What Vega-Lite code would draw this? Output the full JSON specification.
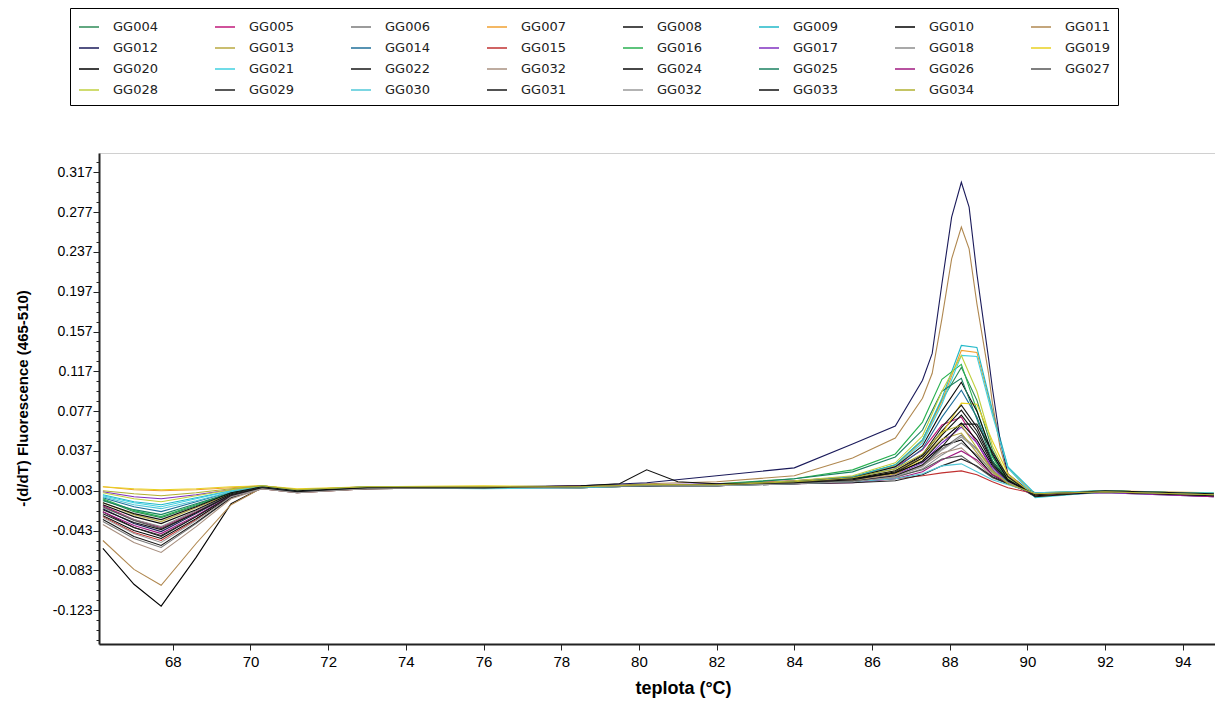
{
"$schema":"https://vega.github.io/schema/vega-lite/v6.json",
"width":1116,"height":491,
"autosize":{"type":"none"},
"padding":{"left":99,"top":153,"right":0,"bottom":57},
"background":"white",
"config":{"view":{"stroke":"#d0d0d0","strokeWidth":1},"axis":{"labelColor":"black","titleColor":"black","domainColor":"#222","tickColor":"#222","grid":false}},
"data":{"values":[
{"s":"GG004","t":66.2,"v":-0.012},{"s":"GG004","t":67.0,"v":-0.024},{"s":"GG004","t":67.7,"v":-0.030},{"s":"GG004","t":68.6,"v":-0.018},{"s":"GG004","t":69.5,"v":-0.005},{"s":"GG004","t":70.3,"v":0.001},{"s":"GG004","t":71.2,"v":-0.003},{"s":"GG004","t":73,"v":0.000},{"s":"GG004","t":76,"v":0.001},{"s":"GG004","t":78.5,"v":0.000},{"s":"GG004","t":80.2,"v":0.003},{"s":"GG004","t":82,"v":0.003},{"s":"GG004","t":84,"v":0.007},{"s":"GG004","t":85.5,"v":0.011},{"s":"GG004","t":86.6,"v":0.023},{"s":"GG004","t":87.3,"v":0.048},{"s":"GG004","t":87.8,"v":0.088},{"s":"GG004","t":88.3,"v":0.121},{"s":"GG004","t":88.7,"v":0.088},{"s":"GG004","t":89.1,"v":0.038},{"s":"GG004","t":89.5,"v":0.009},{"s":"GG004","t":90.2,"v":-0.006},{"s":"GG004","t":92,"v":-0.003},{"s":"GG004","t":94.8,"v":-0.007},
{"s":"GG005","t":66.2,"v":-0.018},{"s":"GG005","t":67.0,"v":-0.032},{"s":"GG005","t":67.7,"v":-0.040},{"s":"GG005","t":68.6,"v":-0.024},{"s":"GG005","t":69.5,"v":-0.007},{"s":"GG005","t":70.3,"v":0.000},{"s":"GG005","t":71.2,"v":-0.004},{"s":"GG005","t":73,"v":0.001},{"s":"GG005","t":76,"v":0.000},{"s":"GG005","t":78.5,"v":0.002},{"s":"GG005","t":80.2,"v":0.002},{"s":"GG005","t":82,"v":0.004},{"s":"GG005","t":84,"v":0.007},{"s":"GG005","t":85.5,"v":0.011},{"s":"GG005","t":86.6,"v":0.021},{"s":"GG005","t":87.3,"v":0.038},{"s":"GG005","t":87.8,"v":0.063},{"s":"GG005","t":88.3,"v":0.071},{"s":"GG005","t":88.7,"v":0.045},{"s":"GG005","t":89.1,"v":0.018},{"s":"GG005","t":89.5,"v":0.004},{"s":"GG005","t":90.2,"v":-0.007},{"s":"GG005","t":92,"v":-0.004},{"s":"GG005","t":94.8,"v":-0.008},
{"s":"GG006","t":66.2,"v":-0.034},{"s":"GG006","t":67.0,"v":-0.051},{"s":"GG006","t":67.7,"v":-0.060},{"s":"GG006","t":68.6,"v":-0.036},{"s":"GG006","t":69.5,"v":-0.010},{"s":"GG006","t":70.3,"v":-0.001},{"s":"GG006","t":71.2,"v":-0.005},{"s":"GG006","t":73,"v":-0.001},{"s":"GG006","t":76,"v":0.001},{"s":"GG006","t":78.5,"v":0.000},{"s":"GG006","t":80.2,"v":0.002},{"s":"GG006","t":82,"v":0.002},{"s":"GG006","t":84,"v":0.005},{"s":"GG006","t":85.5,"v":0.007},{"s":"GG006","t":86.6,"v":0.012},{"s":"GG006","t":87.3,"v":0.022},{"s":"GG006","t":87.8,"v":0.039},{"s":"GG006","t":88.3,"v":0.053},{"s":"GG006","t":88.7,"v":0.039},{"s":"GG006","t":89.1,"v":0.018},{"s":"GG006","t":89.5,"v":0.005},{"s":"GG006","t":90.2,"v":-0.006},{"s":"GG006","t":92,"v":-0.005},{"s":"GG006","t":94.8,"v":-0.009},
{"s":"GG007","t":66.2,"v":0.001},{"s":"GG007","t":67.0,"v":-0.002},{"s":"GG007","t":67.7,"v":-0.003},{"s":"GG007","t":68.6,"v":-0.002},{"s":"GG007","t":69.5,"v":0.000},{"s":"GG007","t":70.3,"v":0.002},{"s":"GG007","t":71.2,"v":-0.002},{"s":"GG007","t":73,"v":0.000},{"s":"GG007","t":76,"v":0.001},{"s":"GG007","t":78.5,"v":0.001},{"s":"GG007","t":80.2,"v":0.003},{"s":"GG007","t":82,"v":0.002},{"s":"GG007","t":84,"v":0.006},{"s":"GG007","t":85.5,"v":0.010},{"s":"GG007","t":86.6,"v":0.022},{"s":"GG007","t":87.3,"v":0.047},{"s":"GG007","t":87.8,"v":0.087},{"s":"GG007","t":88.3,"v":0.138},{"s":"GG007","t":88.7,"v":0.136},{"s":"GG007","t":89.1,"v":0.076},{"s":"GG007","t":89.5,"v":0.020},{"s":"GG007","t":90.2,"v":-0.008},{"s":"GG007","t":92,"v":-0.003},{"s":"GG007","t":94.8,"v":-0.005},
{"s":"GG008","t":66.2,"v":-0.024},{"s":"GG008","t":67.0,"v":-0.040},{"s":"GG008","t":67.7,"v":-0.049},{"s":"GG008","t":68.6,"v":-0.029},{"s":"GG008","t":69.5,"v":-0.008},{"s":"GG008","t":70.3,"v":0.000},{"s":"GG008","t":71.2,"v":-0.004},{"s":"GG008","t":73,"v":0.000},{"s":"GG008","t":76,"v":0.000},{"s":"GG008","t":78.5,"v":0.001},{"s":"GG008","t":80.2,"v":0.003},{"s":"GG008","t":82,"v":0.003},{"s":"GG008","t":84,"v":0.005},{"s":"GG008","t":85.5,"v":0.008},{"s":"GG008","t":86.6,"v":0.016},{"s":"GG008","t":87.3,"v":0.032},{"s":"GG008","t":87.8,"v":0.057},{"s":"GG008","t":88.3,"v":0.078},{"s":"GG008","t":88.7,"v":0.057},{"s":"GG008","t":89.1,"v":0.026},{"s":"GG008","t":89.5,"v":0.007},{"s":"GG008","t":90.2,"v":-0.009},{"s":"GG008","t":92,"v":-0.004},{"s":"GG008","t":94.8,"v":-0.007},
{"s":"GG009","t":66.2,"v":-0.007},{"s":"GG009","t":67.0,"v":-0.014},{"s":"GG009","t":67.7,"v":-0.017},{"s":"GG009","t":68.6,"v":-0.010},{"s":"GG009","t":69.5,"v":-0.003},{"s":"GG009","t":70.3,"v":0.002},{"s":"GG009","t":71.2,"v":-0.003},{"s":"GG009","t":73,"v":0.001},{"s":"GG009","t":76,"v":0.000},{"s":"GG009","t":78.5,"v":0.000},{"s":"GG009","t":80.2,"v":0.002},{"s":"GG009","t":82,"v":0.003},{"s":"GG009","t":84,"v":0.006},{"s":"GG009","t":85.5,"v":0.011},{"s":"GG009","t":86.6,"v":0.023},{"s":"GG009","t":87.3,"v":0.048},{"s":"GG009","t":87.8,"v":0.090},{"s":"GG009","t":88.3,"v":0.143},{"s":"GG009","t":88.7,"v":0.141},{"s":"GG009","t":89.1,"v":0.078},{"s":"GG009","t":89.5,"v":0.021},{"s":"GG009","t":90.2,"v":-0.006},{"s":"GG009","t":92,"v":-0.004},{"s":"GG009","t":94.8,"v":-0.006},
{"s":"GG010","t":66.2,"v":-0.061},{"s":"GG010","t":67.0,"v":-0.097},{"s":"GG010","t":67.7,"v":-0.119},{"s":"GG010","t":68.6,"v":-0.070},{"s":"GG010","t":69.5,"v":-0.016},{"s":"GG010","t":70.3,"v":0.000},{"s":"GG010","t":71.2,"v":-0.004},{"s":"GG010","t":73,"v":-0.001},{"s":"GG010","t":76,"v":0.000},{"s":"GG010","t":78.5,"v":0.001},{"s":"GG010","t":80.2,"v":0.002},{"s":"GG010","t":82,"v":0.002},{"s":"GG010","t":84,"v":0.005},{"s":"GG010","t":85.5,"v":0.007},{"s":"GG010","t":86.6,"v":0.014},{"s":"GG010","t":87.3,"v":0.027},{"s":"GG010","t":87.8,"v":0.048},{"s":"GG010","t":88.3,"v":0.065},{"s":"GG010","t":88.7,"v":0.048},{"s":"GG010","t":89.1,"v":0.022},{"s":"GG010","t":89.5,"v":0.006},{"s":"GG010","t":90.2,"v":-0.007},{"s":"GG010","t":92,"v":-0.003},{"s":"GG010","t":94.8,"v":-0.006},
{"s":"GG011","t":66.2,"v":-0.053},{"s":"GG011","t":67.0,"v":-0.082},{"s":"GG011","t":67.7,"v":-0.098},{"s":"GG011","t":68.6,"v":-0.056},{"s":"GG011","t":69.5,"v":-0.017},{"s":"GG011","t":70.3,"v":0.000},{"s":"GG011","t":71.2,"v":-0.004},{"s":"GG011","t":73,"v":0.000},{"s":"GG011","t":76,"v":0.001},{"s":"GG011","t":78.5,"v":0.001},{"s":"GG011","t":80.2,"v":0.004},{"s":"GG011","t":82,"v":0.006},{"s":"GG011","t":84,"v":0.012},{"s":"GG011","t":85.5,"v":0.030},{"s":"GG011","t":86.6,"v":0.050},{"s":"GG011","t":87.3,"v":0.090},{"s":"GG011","t":87.55,"v":0.115},{"s":"GG011","t":87.8,"v":0.170},{"s":"GG011","t":88.05,"v":0.230},{"s":"GG011","t":88.3,"v":0.262},{"s":"GG011","t":88.5,"v":0.240},{"s":"GG011","t":88.7,"v":0.185},{"s":"GG011","t":89.0,"v":0.115},{"s":"GG011","t":89.1,"v":0.085},{"s":"GG011","t":89.3,"v":0.040},{"s":"GG011","t":89.5,"v":0.012},{"s":"GG011","t":90.2,"v":-0.008},{"s":"GG011","t":92,"v":-0.004},{"s":"GG011","t":94.8,"v":-0.007},
{"s":"GG012","t":66.2,"v":-0.021},{"s":"GG012","t":67.0,"v":-0.036},{"s":"GG012","t":67.7,"v":-0.044},{"s":"GG012","t":68.6,"v":-0.026},{"s":"GG012","t":69.5,"v":-0.007},{"s":"GG012","t":70.3,"v":0.001},{"s":"GG012","t":71.2,"v":-0.003},{"s":"GG012","t":73,"v":0.001},{"s":"GG012","t":76,"v":0.001},{"s":"GG012","t":78.5,"v":0.002},{"s":"GG012","t":80.2,"v":0.005},{"s":"GG012","t":82,"v":0.012},{"s":"GG012","t":84,"v":0.020},{"s":"GG012","t":85.5,"v":0.044},{"s":"GG012","t":86.6,"v":0.062},{"s":"GG012","t":87.3,"v":0.108},{"s":"GG012","t":87.55,"v":0.135},{"s":"GG012","t":87.8,"v":0.205},{"s":"GG012","t":88.05,"v":0.272},{"s":"GG012","t":88.3,"v":0.307},{"s":"GG012","t":88.5,"v":0.282},{"s":"GG012","t":88.7,"v":0.215},{"s":"GG012","t":89.0,"v":0.130},{"s":"GG012","t":89.1,"v":0.100},{"s":"GG012","t":89.3,"v":0.047},{"s":"GG012","t":89.5,"v":0.014},{"s":"GG012","t":90.2,"v":-0.008},{"s":"GG012","t":92,"v":-0.004},{"s":"GG012","t":94.8,"v":-0.006},
{"s":"GG013","t":66.2,"v":-0.015},{"s":"GG013","t":67.0,"v":-0.027},{"s":"GG013","t":67.7,"v":-0.034},{"s":"GG013","t":68.6,"v":-0.020},{"s":"GG013","t":69.5,"v":-0.006},{"s":"GG013","t":70.3,"v":0.001},{"s":"GG013","t":71.2,"v":-0.003},{"s":"GG013","t":73,"v":0.000},{"s":"GG013","t":76,"v":0.001},{"s":"GG013","t":78.5,"v":0.000},{"s":"GG013","t":80.2,"v":0.002},{"s":"GG013","t":82,"v":0.003},{"s":"GG013","t":84,"v":0.006},{"s":"GG013","t":85.5,"v":0.009},{"s":"GG013","t":86.6,"v":0.017},{"s":"GG013","t":87.3,"v":0.030},{"s":"GG013","t":87.8,"v":0.049},{"s":"GG013","t":88.3,"v":0.055},{"s":"GG013","t":88.7,"v":0.035},{"s":"GG013","t":89.1,"v":0.015},{"s":"GG013","t":89.5,"v":0.004},{"s":"GG013","t":90.2,"v":-0.005},{"s":"GG013","t":92,"v":-0.004},{"s":"GG013","t":94.8,"v":-0.008},
{"s":"GG014","t":66.2,"v":-0.010},{"s":"GG014","t":67.0,"v":-0.019},{"s":"GG014","t":67.7,"v":-0.024},{"s":"GG014","t":68.6,"v":-0.014},{"s":"GG014","t":69.5,"v":-0.004},{"s":"GG014","t":70.3,"v":0.001},{"s":"GG014","t":71.2,"v":-0.004},{"s":"GG014","t":73,"v":0.000},{"s":"GG014","t":76,"v":0.000},{"s":"GG014","t":78.5,"v":0.001},{"s":"GG014","t":80.2,"v":0.002},{"s":"GG014","t":82,"v":0.003},{"s":"GG014","t":84,"v":0.006},{"s":"GG014","t":85.5,"v":0.010},{"s":"GG014","t":86.6,"v":0.019},{"s":"GG014","t":87.3,"v":0.039},{"s":"GG014","t":87.8,"v":0.071},{"s":"GG014","t":88.3,"v":0.098},{"s":"GG014","t":88.7,"v":0.071},{"s":"GG014","t":89.1,"v":0.032},{"s":"GG014","t":89.5,"v":0.008},{"s":"GG014","t":90.2,"v":-0.007},{"s":"GG014","t":92,"v":-0.004},{"s":"GG014","t":94.8,"v":-0.006},
{"s":"GG015","t":66.2,"v":-0.029},{"s":"GG015","t":67.0,"v":-0.045},{"s":"GG015","t":67.7,"v":-0.053},{"s":"GG015","t":68.6,"v":-0.032},{"s":"GG015","t":69.5,"v":-0.009},{"s":"GG015","t":70.3,"v":-0.001},{"s":"GG015","t":71.2,"v":-0.005},{"s":"GG015","t":73,"v":-0.001},{"s":"GG015","t":76,"v":0.000},{"s":"GG015","t":78.5,"v":0.000},{"s":"GG015","t":80.2,"v":0.002},{"s":"GG015","t":82,"v":0.002},{"s":"GG015","t":84,"v":0.004},{"s":"GG015","t":85.5,"v":0.006},{"s":"GG015","t":86.6,"v":0.009},{"s":"GG015","t":87.3,"v":0.012},{"s":"GG015","t":87.8,"v":0.015},{"s":"GG015","t":88.3,"v":0.017},{"s":"GG015","t":88.7,"v":0.013},{"s":"GG015","t":89.1,"v":0.006},{"s":"GG015","t":89.5,"v":0.000},{"s":"GG015","t":90.2,"v":-0.006},{"s":"GG015","t":92,"v":-0.004},{"s":"GG015","t":94.8,"v":-0.007},
{"s":"GG016","t":66.2,"v":-0.011},{"s":"GG016","t":67.0,"v":-0.023},{"s":"GG016","t":67.7,"v":-0.029},{"s":"GG016","t":68.6,"v":-0.017},{"s":"GG016","t":69.5,"v":-0.005},{"s":"GG016","t":70.3,"v":0.001},{"s":"GG016","t":71.2,"v":-0.003},{"s":"GG016","t":73,"v":0.000},{"s":"GG016","t":76,"v":0.001},{"s":"GG016","t":78.5,"v":0.001},{"s":"GG016","t":80.2,"v":0.002},{"s":"GG016","t":82,"v":0.004},{"s":"GG016","t":84,"v":0.009},{"s":"GG016","t":85.5,"v":0.018},{"s":"GG016","t":86.6,"v":0.034},{"s":"GG016","t":87.3,"v":0.066},{"s":"GG016","t":87.8,"v":0.109},{"s":"GG016","t":88.3,"v":0.124},{"s":"GG016","t":88.7,"v":0.078},{"s":"GG016","t":89.1,"v":0.031},{"s":"GG016","t":89.5,"v":0.006},{"s":"GG016","t":90.2,"v":-0.005},{"s":"GG016","t":92,"v":-0.003},{"s":"GG016","t":94.8,"v":-0.006},
{"s":"GG017","t":66.2,"v":-0.004},{"s":"GG017","t":67.0,"v":-0.009},{"s":"GG017","t":67.7,"v":-0.011},{"s":"GG017","t":68.6,"v":-0.007},{"s":"GG017","t":69.5,"v":-0.002},{"s":"GG017","t":70.3,"v":0.002},{"s":"GG017","t":71.2,"v":-0.002},{"s":"GG017","t":73,"v":0.001},{"s":"GG017","t":76,"v":0.001},{"s":"GG017","t":78.5,"v":0.001},{"s":"GG017","t":80.2,"v":0.003},{"s":"GG017","t":82,"v":0.004},{"s":"GG017","t":84,"v":0.005},{"s":"GG017","t":85.5,"v":0.007},{"s":"GG017","t":86.6,"v":0.013},{"s":"GG017","t":87.3,"v":0.025},{"s":"GG017","t":87.8,"v":0.045},{"s":"GG017","t":88.3,"v":0.061},{"s":"GG017","t":88.7,"v":0.045},{"s":"GG017","t":89.1,"v":0.020},{"s":"GG017","t":89.5,"v":0.006},{"s":"GG017","t":90.2,"v":-0.008},{"s":"GG017","t":92,"v":-0.005},{"s":"GG017","t":94.8,"v":-0.009},
{"s":"GG018","t":66.2,"v":-0.020},{"s":"GG018","t":67.0,"v":-0.032},{"s":"GG018","t":67.7,"v":-0.039},{"s":"GG018","t":68.6,"v":-0.023},{"s":"GG018","t":69.5,"v":-0.007},{"s":"GG018","t":70.3,"v":0.000},{"s":"GG018","t":71.2,"v":-0.004},{"s":"GG018","t":73,"v":0.000},{"s":"GG018","t":76,"v":0.000},{"s":"GG018","t":78.5,"v":0.001},{"s":"GG018","t":80.2,"v":0.002},{"s":"GG018","t":82,"v":0.002},{"s":"GG018","t":84,"v":0.004},{"s":"GG018","t":85.5,"v":0.006},{"s":"GG018","t":86.6,"v":0.010},{"s":"GG018","t":87.3,"v":0.019},{"s":"GG018","t":87.8,"v":0.033},{"s":"GG018","t":88.3,"v":0.045},{"s":"GG018","t":88.7,"v":0.033},{"s":"GG018","t":89.1,"v":0.016},{"s":"GG018","t":89.5,"v":0.005},{"s":"GG018","t":90.2,"v":-0.006},{"s":"GG018","t":92,"v":-0.003},{"s":"GG018","t":94.8,"v":-0.007},
{"s":"GG019","t":66.2,"v":0.001},{"s":"GG019","t":67.0,"v":-0.001},{"s":"GG019","t":67.7,"v":-0.002},{"s":"GG019","t":68.6,"v":-0.001},{"s":"GG019","t":69.5,"v":0.001},{"s":"GG019","t":70.3,"v":0.002},{"s":"GG019","t":71.2,"v":-0.001},{"s":"GG019","t":73,"v":0.001},{"s":"GG019","t":76,"v":0.002},{"s":"GG019","t":78.5,"v":0.001},{"s":"GG019","t":80.2,"v":0.003},{"s":"GG019","t":82,"v":0.003},{"s":"GG019","t":84,"v":0.005},{"s":"GG019","t":85.5,"v":0.007},{"s":"GG019","t":86.6,"v":0.014},{"s":"GG019","t":87.3,"v":0.029},{"s":"GG019","t":87.8,"v":0.054},{"s":"GG019","t":88.3,"v":0.085},{"s":"GG019","t":88.7,"v":0.084},{"s":"GG019","t":89.1,"v":0.047},{"s":"GG019","t":89.5,"v":0.014},{"s":"GG019","t":90.2,"v":-0.009},{"s":"GG019","t":92,"v":-0.004},{"s":"GG019","t":94.8,"v":-0.006},
{"s":"GG020","t":66.2,"v":-0.028},{"s":"GG020","t":67.0,"v":-0.043},{"s":"GG020","t":67.7,"v":-0.051},{"s":"GG020","t":68.6,"v":-0.031},{"s":"GG020","t":69.5,"v":-0.009},{"s":"GG020","t":70.3,"v":0.000},{"s":"GG020","t":71.2,"v":-0.004},{"s":"GG020","t":73,"v":-0.001},{"s":"GG020","t":76,"v":0.000},{"s":"GG020","t":78.5,"v":0.001},{"s":"GG020","t":80.2,"v":0.002},{"s":"GG020","t":82,"v":0.003},{"s":"GG020","t":84,"v":0.005},{"s":"GG020","t":85.5,"v":0.009},{"s":"GG020","t":86.6,"v":0.015},{"s":"GG020","t":87.3,"v":0.026},{"s":"GG020","t":87.8,"v":0.042},{"s":"GG020","t":88.3,"v":0.048},{"s":"GG020","t":88.7,"v":0.031},{"s":"GG020","t":89.1,"v":0.013},{"s":"GG020","t":89.5,"v":0.004},{"s":"GG020","t":90.2,"v":-0.006},{"s":"GG020","t":92,"v":-0.004},{"s":"GG020","t":94.8,"v":-0.008},
{"s":"GG021","t":66.2,"v":-0.008},{"s":"GG021","t":67.0,"v":-0.015},{"s":"GG021","t":67.7,"v":-0.019},{"s":"GG021","t":68.6,"v":-0.011},{"s":"GG021","t":69.5,"v":-0.003},{"s":"GG021","t":70.3,"v":0.002},{"s":"GG021","t":71.2,"v":-0.003},{"s":"GG021","t":73,"v":0.001},{"s":"GG021","t":76,"v":0.001},{"s":"GG021","t":78.5,"v":0.000},{"s":"GG021","t":80.2,"v":0.002},{"s":"GG021","t":82,"v":0.003},{"s":"GG021","t":84,"v":0.006},{"s":"GG021","t":85.5,"v":0.010},{"s":"GG021","t":86.6,"v":0.021},{"s":"GG021","t":87.3,"v":0.045},{"s":"GG021","t":87.8,"v":0.084},{"s":"GG021","t":88.3,"v":0.133},{"s":"GG021","t":88.7,"v":0.132},{"s":"GG021","t":89.1,"v":0.073},{"s":"GG021","t":89.5,"v":0.020},{"s":"GG021","t":90.2,"v":-0.010},{"s":"GG021","t":92,"v":-0.004},{"s":"GG021","t":94.8,"v":-0.005},
{"s":"GG022","t":66.2,"v":-0.032},{"s":"GG022","t":67.0,"v":-0.049},{"s":"GG022","t":67.7,"v":-0.058},{"s":"GG022","t":68.6,"v":-0.035},{"s":"GG022","t":69.5,"v":-0.010},{"s":"GG022","t":70.3,"v":0.000},{"s":"GG022","t":71.2,"v":-0.004},{"s":"GG022","t":73,"v":0.000},{"s":"GG022","t":76,"v":0.000},{"s":"GG022","t":78.5,"v":0.001},{"s":"GG022","t":80.2,"v":0.002},{"s":"GG022","t":82,"v":0.003},{"s":"GG022","t":84,"v":0.005},{"s":"GG022","t":85.5,"v":0.009},{"s":"GG022","t":86.6,"v":0.017},{"s":"GG022","t":87.3,"v":0.033},{"s":"GG022","t":87.8,"v":0.061},{"s":"GG022","t":88.3,"v":0.083},{"s":"GG022","t":88.7,"v":0.061},{"s":"GG022","t":89.1,"v":0.027},{"s":"GG022","t":89.5,"v":0.007},{"s":"GG022","t":90.2,"v":-0.007},{"s":"GG022","t":92,"v":-0.003},{"s":"GG022","t":94.8,"v":-0.007},
{"s":"GG023","t":66.2,"v":-0.037},{"s":"GG023","t":67.0,"v":-0.055},{"s":"GG023","t":67.7,"v":-0.065},{"s":"GG023","t":68.6,"v":-0.039},{"s":"GG023","t":69.5,"v":-0.011},{"s":"GG023","t":70.3,"v":-0.001},{"s":"GG023","t":71.2,"v":-0.005},{"s":"GG023","t":73,"v":-0.001},{"s":"GG023","t":76,"v":0.000},{"s":"GG023","t":78.5,"v":0.000},{"s":"GG023","t":80.2,"v":0.002},{"s":"GG023","t":82,"v":0.002},{"s":"GG023","t":84,"v":0.005},{"s":"GG023","t":85.5,"v":0.008},{"s":"GG023","t":86.6,"v":0.013},{"s":"GG023","t":87.3,"v":0.022},{"s":"GG023","t":87.8,"v":0.035},{"s":"GG023","t":88.3,"v":0.040},{"s":"GG023","t":88.7,"v":0.026},{"s":"GG023","t":89.1,"v":0.011},{"s":"GG023","t":89.5,"v":0.004},{"s":"GG023","t":90.2,"v":-0.006},{"s":"GG023","t":92,"v":-0.004},{"s":"GG023","t":94.8,"v":-0.007},
{"s":"GG024","t":66.2,"v":-0.017},{"s":"GG024","t":67.0,"v":-0.029},{"s":"GG024","t":67.7,"v":-0.036},{"s":"GG024","t":68.6,"v":-0.022},{"s":"GG024","t":69.5,"v":-0.006},{"s":"GG024","t":70.3,"v":0.001},{"s":"GG024","t":71.2,"v":-0.003},{"s":"GG024","t":73,"v":0.000},{"s":"GG024","t":76,"v":0.001},{"s":"GG024","t":78.5,"v":0.001},{"s":"GG024","t":80.2,"v":0.003},{"s":"GG024","t":82,"v":0.003},{"s":"GG024","t":84,"v":0.006},{"s":"GG024","t":85.5,"v":0.010},{"s":"GG024","t":86.6,"v":0.021},{"s":"GG024","t":87.3,"v":0.042},{"s":"GG024","t":87.8,"v":0.077},{"s":"GG024","t":88.3,"v":0.106},{"s":"GG024","t":88.7,"v":0.077},{"s":"GG024","t":89.1,"v":0.034},{"s":"GG024","t":89.5,"v":0.008},{"s":"GG024","t":90.2,"v":-0.008},{"s":"GG024","t":92,"v":-0.004},{"s":"GG024","t":94.8,"v":-0.008},
{"s":"GG025","t":66.2,"v":-0.013},{"s":"GG025","t":67.0,"v":-0.022},{"s":"GG025","t":67.7,"v":-0.027},{"s":"GG025","t":68.6,"v":-0.016},{"s":"GG025","t":69.5,"v":-0.005},{"s":"GG025","t":70.3,"v":0.001},{"s":"GG025","t":71.2,"v":-0.003},{"s":"GG025","t":73,"v":0.000},{"s":"GG025","t":76,"v":0.000},{"s":"GG025","t":78.5,"v":0.001},{"s":"GG025","t":80.2,"v":0.002},{"s":"GG025","t":82,"v":0.003},{"s":"GG025","t":84,"v":0.009},{"s":"GG025","t":85.5,"v":0.016},{"s":"GG025","t":86.6,"v":0.031},{"s":"GG025","t":87.3,"v":0.058},{"s":"GG025","t":87.8,"v":0.097},{"s":"GG025","t":88.3,"v":0.110},{"s":"GG025","t":88.7,"v":0.069},{"s":"GG025","t":89.1,"v":0.027},{"s":"GG025","t":89.5,"v":0.005},{"s":"GG025","t":90.2,"v":-0.006},{"s":"GG025","t":92,"v":-0.003},{"s":"GG025","t":94.8,"v":-0.006},
{"s":"GG026","t":66.2,"v":-0.024},{"s":"GG026","t":67.0,"v":-0.038},{"s":"GG026","t":67.7,"v":-0.046},{"s":"GG026","t":68.6,"v":-0.028},{"s":"GG026","t":69.5,"v":-0.008},{"s":"GG026","t":70.3,"v":0.000},{"s":"GG026","t":71.2,"v":-0.004},{"s":"GG026","t":73,"v":0.000},{"s":"GG026","t":76,"v":0.001},{"s":"GG026","t":78.5,"v":0.001},{"s":"GG026","t":80.2,"v":0.002},{"s":"GG026","t":82,"v":0.003},{"s":"GG026","t":84,"v":0.004},{"s":"GG026","t":85.5,"v":0.005},{"s":"GG026","t":86.6,"v":0.009},{"s":"GG026","t":87.3,"v":0.016},{"s":"GG026","t":87.8,"v":0.028},{"s":"GG026","t":88.3,"v":0.037},{"s":"GG026","t":88.7,"v":0.028},{"s":"GG026","t":89.1,"v":0.013},{"s":"GG026","t":89.5,"v":0.005},{"s":"GG026","t":90.2,"v":-0.007},{"s":"GG026","t":92,"v":-0.004},{"s":"GG026","t":94.8,"v":-0.009},
{"s":"GG027","t":66.2,"v":-0.019},{"s":"GG027","t":67.0,"v":-0.033},{"s":"GG027","t":67.7,"v":-0.041},{"s":"GG027","t":68.6,"v":-0.025},{"s":"GG027","t":69.5,"v":-0.007},{"s":"GG027","t":70.3,"v":0.000},{"s":"GG027","t":71.2,"v":-0.004},{"s":"GG027","t":73,"v":0.000},{"s":"GG027","t":76,"v":0.000},{"s":"GG027","t":78.5,"v":0.000},{"s":"GG027","t":80.2,"v":0.002},{"s":"GG027","t":82,"v":0.002},{"s":"GG027","t":84,"v":0.005},{"s":"GG027","t":85.5,"v":0.007},{"s":"GG027","t":86.6,"v":0.011},{"s":"GG027","t":87.3,"v":0.018},{"s":"GG027","t":87.8,"v":0.029},{"s":"GG027","t":88.3,"v":0.032},{"s":"GG027","t":88.7,"v":0.021},{"s":"GG027","t":89.1,"v":0.010},{"s":"GG027","t":89.5,"v":0.004},{"s":"GG027","t":90.2,"v":-0.005},{"s":"GG027","t":92,"v":-0.004},{"s":"GG027","t":94.8,"v":-0.007},
{"s":"GG028","t":66.2,"v":-0.005},{"s":"GG028","t":67.0,"v":-0.011},{"s":"GG028","t":67.7,"v":-0.014},{"s":"GG028","t":68.6,"v":-0.008},{"s":"GG028","t":69.5,"v":-0.002},{"s":"GG028","t":70.3,"v":0.002},{"s":"GG028","t":71.2,"v":-0.002},{"s":"GG028","t":73,"v":0.001},{"s":"GG028","t":76,"v":0.001},{"s":"GG028","t":78.5,"v":0.001},{"s":"GG028","t":80.2,"v":0.003},{"s":"GG028","t":82,"v":0.003},{"s":"GG028","t":84,"v":0.007},{"s":"GG028","t":85.5,"v":0.012},{"s":"GG028","t":86.6,"v":0.025},{"s":"GG028","t":87.3,"v":0.052},{"s":"GG028","t":87.8,"v":0.097},{"s":"GG028","t":88.3,"v":0.133},{"s":"GG028","t":88.7,"v":0.097},{"s":"GG028","t":89.1,"v":0.042},{"s":"GG028","t":89.5,"v":0.010},{"s":"GG028","t":90.2,"v":-0.007},{"s":"GG028","t":92,"v":-0.003},{"s":"GG028","t":94.8,"v":-0.006},
{"s":"GG029","t":66.2,"v":-0.026},{"s":"GG029","t":67.0,"v":-0.040},{"s":"GG029","t":67.7,"v":-0.048},{"s":"GG029","t":68.6,"v":-0.029},{"s":"GG029","t":69.5,"v":-0.008},{"s":"GG029","t":70.3,"v":0.000},{"s":"GG029","t":71.2,"v":-0.004},{"s":"GG029","t":73,"v":0.000},{"s":"GG029","t":76,"v":0.000},{"s":"GG029","t":78.5,"v":0.001},{"s":"GG029","t":80.2,"v":0.002},{"s":"GG029","t":82,"v":0.002},{"s":"GG029","t":84,"v":0.004},{"s":"GG029","t":85.5,"v":0.005},{"s":"GG029","t":86.6,"v":0.007},{"s":"GG029","t":87.3,"v":0.013},{"s":"GG029","t":87.8,"v":0.022},{"s":"GG029","t":88.3,"v":0.029},{"s":"GG029","t":88.7,"v":0.022},{"s":"GG029","t":89.1,"v":0.011},{"s":"GG029","t":89.5,"v":0.004},{"s":"GG029","t":90.2,"v":-0.006},{"s":"GG029","t":92,"v":-0.004},{"s":"GG029","t":94.8,"v":-0.008},
{"s":"GG030","t":66.2,"v":-0.009},{"s":"GG030","t":67.0,"v":-0.017},{"s":"GG030","t":67.7,"v":-0.021},{"s":"GG030","t":68.6,"v":-0.013},{"s":"GG030","t":69.5,"v":-0.004},{"s":"GG030","t":70.3,"v":0.001},{"s":"GG030","t":71.2,"v":-0.003},{"s":"GG030","t":73,"v":0.000},{"s":"GG030","t":76,"v":-0.001},{"s":"GG030","t":78.5,"v":0.000},{"s":"GG030","t":80.2,"v":0.002},{"s":"GG030","t":82,"v":0.002},{"s":"GG030","t":84,"v":0.004},{"s":"GG030","t":85.5,"v":0.006},{"s":"GG030","t":86.6,"v":0.009},{"s":"GG030","t":87.3,"v":0.014},{"s":"GG030","t":87.8,"v":0.022},{"s":"GG030","t":88.3,"v":0.024},{"s":"GG030","t":88.7,"v":0.016},{"s":"GG030","t":89.1,"v":0.008},{"s":"GG030","t":89.5,"v":0.003},{"s":"GG030","t":90.2,"v":-0.005},{"s":"GG030","t":92,"v":-0.003},{"s":"GG030","t":94.8,"v":-0.006},
{"s":"GG031","t":66.2,"v":-0.022},{"s":"GG031","t":67.0,"v":-0.035},{"s":"GG031","t":67.7,"v":-0.042},{"s":"GG031","t":68.6,"v":-0.025},{"s":"GG031","t":69.5,"v":-0.007},{"s":"GG031","t":70.3,"v":0.000},{"s":"GG031","t":71.2,"v":-0.004},{"s":"GG031","t":73,"v":0.000},{"s":"GG031","t":76,"v":0.000},{"s":"GG031","t":78.5,"v":0.001},{"s":"GG031","t":80.2,"v":0.002},{"s":"GG031","t":82,"v":0.003},{"s":"GG031","t":84,"v":0.004},{"s":"GG031","t":85.5,"v":0.006},{"s":"GG031","t":86.6,"v":0.012},{"s":"GG031","t":87.3,"v":0.023},{"s":"GG031","t":87.8,"v":0.041},{"s":"GG031","t":88.3,"v":0.064},{"s":"GG031","t":88.7,"v":0.064},{"s":"GG031","t":89.1,"v":0.036},{"s":"GG031","t":89.5,"v":0.011},{"s":"GG031","t":90.2,"v":-0.009},{"s":"GG031","t":92,"v":-0.004},{"s":"GG031","t":94.8,"v":-0.008},
{"s":"GG032","t":66.2,"v":-0.030},{"s":"GG032","t":67.0,"v":-0.046},{"s":"GG032","t":67.7,"v":-0.055},{"s":"GG032","t":68.6,"v":-0.033},{"s":"GG032","t":69.5,"v":-0.009},{"s":"GG032","t":70.3,"v":-0.001},{"s":"GG032","t":71.2,"v":-0.005},{"s":"GG032","t":73,"v":-0.001},{"s":"GG032","t":76,"v":0.000},{"s":"GG032","t":78.5,"v":0.001},{"s":"GG032","t":80.2,"v":0.002},{"s":"GG032","t":82,"v":0.002},{"s":"GG032","t":84,"v":0.004},{"s":"GG032","t":85.5,"v":0.006},{"s":"GG032","t":86.6,"v":0.011},{"s":"GG032","t":87.3,"v":0.021},{"s":"GG032","t":87.8,"v":0.038},{"s":"GG032","t":88.3,"v":0.051},{"s":"GG032","t":88.7,"v":0.038},{"s":"GG032","t":89.1,"v":0.017},{"s":"GG032","t":89.5,"v":0.005},{"s":"GG032","t":90.2,"v":-0.006},{"s":"GG032","t":92,"v":-0.004},{"s":"GG032","t":94.8,"v":-0.007},
{"s":"GG033","t":66.2,"v":-0.015},{"s":"GG033","t":67.0,"v":-0.026},{"s":"GG033","t":67.7,"v":-0.032},{"s":"GG033","t":68.6,"v":-0.019},{"s":"GG033","t":69.5,"v":-0.005},{"s":"GG033","t":70.3,"v":0.001},{"s":"GG033","t":71.2,"v":-0.003},{"s":"GG033","t":73,"v":0.000},{"s":"GG033","t":76,"v":0.000},{"s":"GG033","t":78.5,"v":0.002},{"s":"GG033","t":79.5,"v":0.004},{"s":"GG033","t":80.2,"v":0.018},{"s":"GG033","t":81.0,"v":0.006},{"s":"GG033","t":82,"v":0.004},{"s":"GG033","t":84,"v":0.005},{"s":"GG033","t":85.5,"v":0.008},{"s":"GG033","t":86.6,"v":0.015},{"s":"GG033","t":87.3,"v":0.030},{"s":"GG033","t":87.8,"v":0.053},{"s":"GG033","t":88.3,"v":0.073},{"s":"GG033","t":88.7,"v":0.053},{"s":"GG033","t":89.1,"v":0.024},{"s":"GG033","t":89.5,"v":0.007},{"s":"GG033","t":90.2,"v":-0.007},{"s":"GG033","t":92,"v":-0.003},{"s":"GG033","t":94.8,"v":-0.006},
{"s":"GG034","t":66.2,"v":-0.003},{"s":"GG034","t":67.0,"v":-0.006},{"s":"GG034","t":67.7,"v":-0.008},{"s":"GG034","t":68.6,"v":-0.005},{"s":"GG034","t":69.5,"v":-0.001},{"s":"GG034","t":70.3,"v":0.002},{"s":"GG034","t":71.2,"v":-0.002},{"s":"GG034","t":73,"v":0.001},{"s":"GG034","t":76,"v":0.001},{"s":"GG034","t":78.5,"v":0.001},{"s":"GG034","t":80.2,"v":0.003},{"s":"GG034","t":82,"v":0.003},{"s":"GG034","t":84,"v":0.006},{"s":"GG034","t":85.5,"v":0.010},{"s":"GG034","t":86.6,"v":0.019},{"s":"GG034","t":87.3,"v":0.034},{"s":"GG034","t":87.8,"v":0.056},{"s":"GG034","t":88.3,"v":0.063},{"s":"GG034","t":88.7,"v":0.040},{"s":"GG034","t":89.1,"v":0.017},{"s":"GG034","t":89.5,"v":0.004},{"s":"GG034","t":90.2,"v":-0.006},{"s":"GG034","t":92,"v":-0.004},{"s":"GG034","t":94.8,"v":-0.007}
]},
"mark":{"type":"line","strokeWidth":1.1,"clip":true},
"encoding":{
"x":{"field":"t","type":"quantitative","scale":{"domain":[66.1,94.83],"nice":false,"zero":false},
"axis":{"values":[68,70,72,74,76,78,80,82,84,86,88,90,92,94],"format":"d","title":"teplota (°C)","labelFont":"Liberation Sans Narrow, Liberation Sans, Arial","labelFontSize":15,"labelPadding":4,"tickSize":6,"domainWidth":2,"titleFont":"Liberation Sans Narrow, Liberation Sans, Arial","titleFontSize":18,"titleFontWeight":"bold","titleX":584,"titleY":44,"titleBaseline":"middle","titleAnchor":"middle"}},
"y":{"field":"v","type":"quantitative","scale":{"domain":[-0.157,0.3364],"nice":false,"zero":false},
"axis":{"values":[-0.153,-0.143,-0.133,-0.123,-0.113,-0.103,-0.093,-0.083,-0.073,-0.063,-0.053,-0.043,-0.033,-0.023,-0.013,-0.003,0.007,0.017,0.027,0.037,0.047,0.057,0.067,0.077,0.087,0.097,0.107,0.117,0.127,0.137,0.147,0.157,0.167,0.177,0.187,0.197,0.207,0.217,0.227,0.237,0.247,0.257,0.267,0.277,0.287,0.297,0.307,0.317,0.327],
"labelExpr":"indexof([-0.123,-0.083,-0.043,-0.003,0.037,0.077,0.117,0.157,0.197,0.237,0.277,0.317], datum.value) >= 0 ? '' + datum.value : ''",
"tickSize":{"condition":{"test":"indexof([-0.123,-0.083,-0.043,-0.003,0.037,0.077,0.117,0.157,0.197,0.237,0.277,0.317], datum.value) >= 0","value":6},"value":3},
"labelOverlap":false,"labelFont":"Liberation Sans, Arial","labelFontSize":14,"labelPadding":1,"domainWidth":2,
"title":"-(d/dT) Fluorescence (465-510)","titleFont":"Liberation Sans, Arial","titleFontSize":15,"titleFontWeight":"bold","titleX":-77,"titleY":245,"titleAngle":-90,"titleBaseline":"middle","titleAnchor":"middle"}},
"color":{"field":"s","type":"nominal",
"scale":{"domain":["GG004","GG005","GG006","GG007","GG008","GG009","GG010","GG011","GG012","GG013","GG014","GG015","GG016","GG017","GG018","GG019","GG020","GG021","GG022","GG023","GG024","GG025","GG026","GG027","GG028","GG029","GG030","GG031","GG032","GG033","GG034"],
"range":["#2e8b57","#c0187a","#7a7a7a","#f0a030","#111111","#20b8c8","#000000","#b08850","#1a1a5a","#b8a840","#1f6f9a","#c03030","#28b050","#8030c0","#8c8c8c","#e8d020","#000000","#40d0e0","#161616","#a89080","#0a0a0a","#1a8060","#a01880","#555555","#c0d040","#202020","#50c8d8","#181818","#9a9a9a","#101010","#b0b030"]},
"legend":{"orient":"none","legendX":-29,"legendY":-145,"direction":"horizontal","columns":8,"title":null,"symbolLimit":40,
"labelExpr":"datum.label == 'GG023' ? 'GG032' : datum.label",
"symbolType":"stroke","symbolSize":400,"symbolStrokeWidth":1.5,"labelFont":"DejaVu Sans","labelFontSize":13,"labelColor":"#222","labelOffset":13,
"columnPadding":54,"rowPadding":3,"gridAlign":"all","strokeColor":"black","padding":8}}
}
}
